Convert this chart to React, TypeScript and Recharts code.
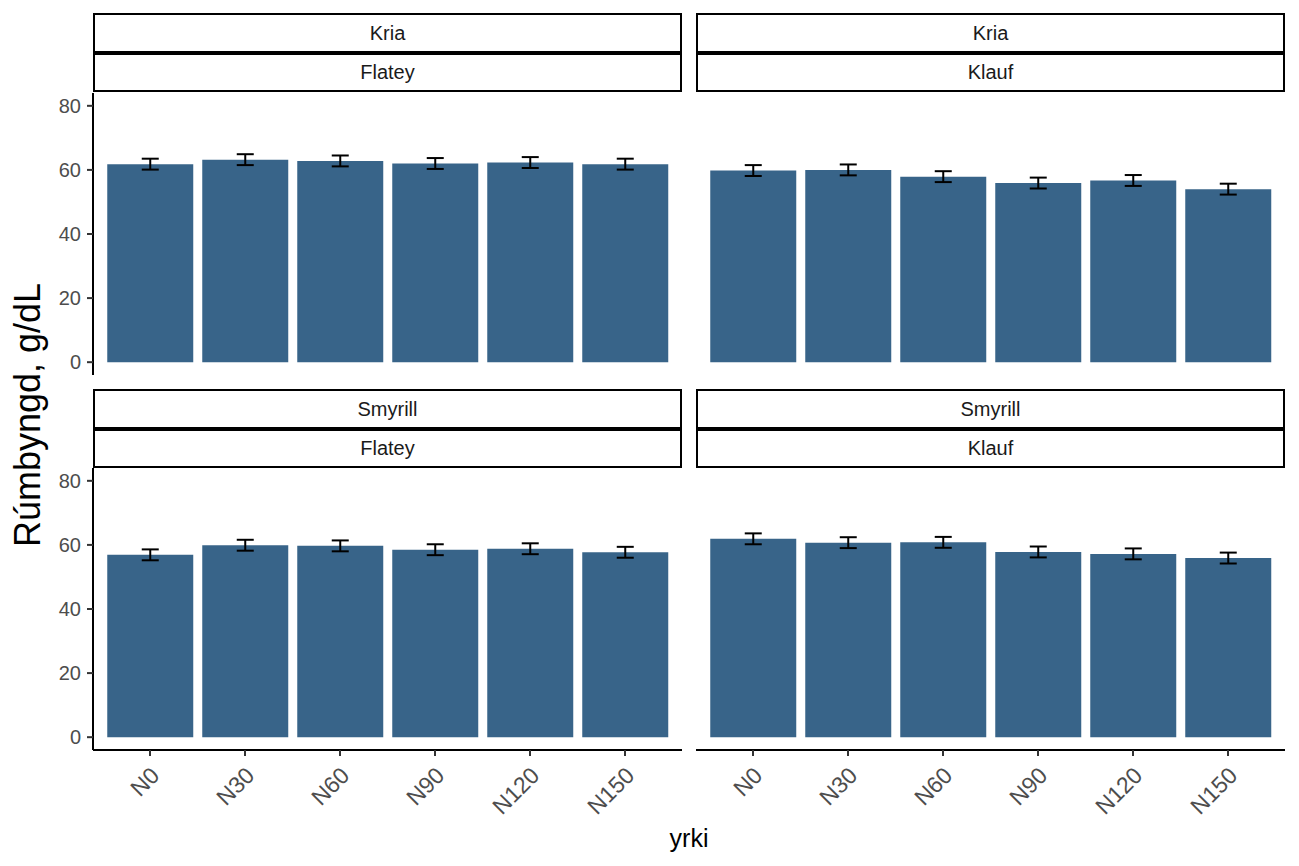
import React from "react";
import { BarChart, Bar, XAxis, YAxis, ErrorBar } from "recharts";

const categories = ["N0", "N30", "N60", "N90", "N120", "N150"];
const kriaFlatey = [61.8, 63.2, 62.8, 62.0, 62.3, 61.8];
const kriaFlateyErr = [1.7, 1.7, 1.7, 1.7, 1.7, 1.7];
const kriaKlauf = [59.8, 60.0, 57.9, 55.9, 56.7, 54.0];
const kriaKlaufErr = [1.7, 1.7, 1.7, 1.7, 1.7, 1.7];
const smyrillFlatey = [56.9, 59.9, 59.7, 58.5, 58.8, 57.7];
const smyrillFlateyErr = [1.7, 1.7, 1.7, 1.7, 1.7, 1.7];
const smyrillKlauf = [61.9, 60.7, 60.8, 57.8, 57.2, 55.9];
const smyrillKlaufErr = [1.7, 1.7, 1.7, 1.7, 1.7, 1.7];
const yTicks = [0, 20, 40, 60, 80];

const FONT = '"Liberation Sans", Arial, sans-serif';
const BAR = "#386489";

const rows = (vals: number[], errs: number[]) =>
  categories.map((c, i) => ({ yrki: c, value: vals[i], err: errs[i] }));

// rotated x labels, right end hung just under the tick
const XTick = ({ x, y, payload }: any) => (
  <g transform={`translate(${x - 1},${y + 7})`}>
    <text
      x={0}
      y={0}
      textAnchor="end"
      dominantBaseline="hanging"
      transform="rotate(-45)"
      fontSize={23}
      fill="#4D4D4D"
      fontFamily={FONT}
    >
      {payload.value}
    </text>
  </g>
);

function Panel({
  data, left, top, showY, showX,
}: { data: any[]; left: number; top: number; showY: boolean; showX: boolean }) {
  const yW = showY ? 50 : 0;
  const plotH = 282;
  const xH = showX ? 100 : 0;
  return (
    <div style={{ position: "absolute", left: left - yW, top }}>
      <BarChart
        width={589 + yW}
        height={plotH + xH}
        data={data}
        margin={{ top: 0, right: 0, bottom: 0, left: 0 }}
        barCategoryGap="5%"
      >
        <XAxis
          dataKey="yrki"
          hide={!showX}
          height={xH}
          padding={{ left: 9.5, right: 9.5 }}
          axisLine={{ stroke: "#000", strokeWidth: 2 }}
          tickLine={{ stroke: "#333", strokeWidth: 2 }}
          tickSize={6}
          tick={(p: any) => <XTick {...p} />}
          interval={0}
        />
        <YAxis
          hide={!showY}
          width={yW}
          domain={[-4, 84]}
          ticks={yTicks}
          allowDataOverflow
          axisLine={{ stroke: "#000", strokeWidth: 2 }}
          tickLine={{ stroke: "#333", strokeWidth: 2 }}
          tickSize={6}
          tickMargin={6}
          tick={{ fontSize: 20, fill: "#4D4D4D", fontFamily: FONT }}
        />
        <Bar dataKey="value" fill={BAR} isAnimationActive={false}>
          <ErrorBar dataKey="err" width={8.5} stroke="#000" strokeWidth={2} />
        </Bar>
      </BarChart>
    </div>
  );
}

function Strip({ left, top, outer, inner }: { left: number; top: number; outer: string; inner: string }) {
  const box: React.CSSProperties = {
    position: "absolute",
    left,
    width: 589,
    boxSizing: "border-box",
    border: "2px solid #000",
    background: "#fff",
    display: "flex",
    alignItems: "center",
    justifyContent: "center",
    fontSize: 20,
    color: "#1A1A1A",
    fontFamily: FONT,
  };
  return (
    <>
      <div style={{ ...box, top, height: 40 }}>{outer}</div>
      <div style={{ ...box, top: top + 40, height: 39 }}>{inner}</div>
    </>
  );
}

export default function App() {
  return (
    <div
      style={{
        position: "absolute",
        left: 0,
        top: 0,
        width: 1299,
        height: 866,
        background: "#fff",
        fontFamily: FONT,
      }}
    >
      <Strip left={93} top={13} outer="Kria" inner="Flatey" />
      <Strip left={696} top={13} outer="Kria" inner="Klauf" />
      <Strip left={93} top={389} outer="Smyrill" inner="Flatey" />
      <Strip left={696} top={389} outer="Smyrill" inner="Klauf" />

      <Panel data={rows(kriaFlatey, kriaFlateyErr)} left={93} top={93} showY showX={false} />
      <Panel data={rows(kriaKlauf, kriaKlaufErr)} left={696} top={93} showY={false} showX={false} />
      <Panel data={rows(smyrillFlatey, smyrillFlateyErr)} left={93} top={468} showY showX />
      <Panel data={rows(smyrillKlauf, smyrillKlaufErr)} left={696} top={468} showY={false} showX />

      <div
        style={{
          position: "absolute",
          left: 28,
          top: 415,
          transform: "translate(-50%, -50%) rotate(-90deg)",
          fontSize: 36,
          lineHeight: 1,
          color: "#000",
          whiteSpace: "nowrap",
        }}
      >
        Rúmbyngd, g/dL
      </div>
      <div
        style={{
          position: "absolute",
          left: 689,
          top: 826,
          transform: "translateX(-50%)",
          fontSize: 25,
          lineHeight: 1,
          color: "#000",
        }}
      >
        yrki
      </div>
    </div>
  );
}
